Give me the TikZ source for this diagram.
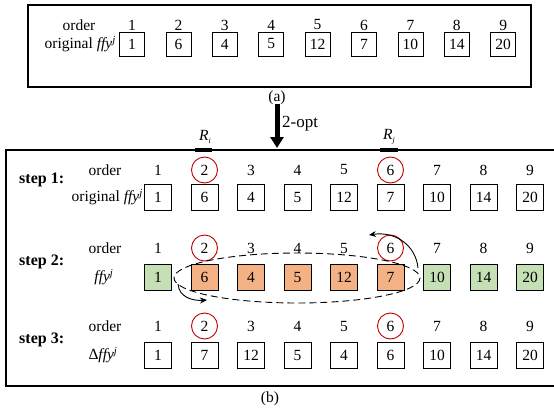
\documentclass[tikz,border=0pt]{standalone}
\usepackage{fontspec}
\setmainfont{Liberation Serif}
\usetikzlibrary{arrows.meta}
\definecolor{gfill}{HTML}{C5E0B4}
\definecolor{ofill}{HTML}{F4B183}
\definecolor{rc}{HTML}{C00000}
\begin{document}
\begin{tikzpicture}[x=1pt,y=-1pt,
  font=\fontsize{15.5}{18}\selectfont,
  cell/.style={draw=black, line width=0.8pt, minimum width=27pt, minimum height=26pt, inner sep=0pt},
  acell/.style={cell, minimum width=25pt, minimum height=24pt},
  num/.style={inner sep=0pt},
  rcirc/.style={draw=rc, circle, line width=0.9pt, minimum size=26pt, inner sep=0pt},
  steplbl/.style={anchor=west, inner sep=0pt, font=\fontsize{16}{19}\selectfont\bfseries},
  bigframe/.style={line width=1.6pt},
  curvearrow/.style={line width=0.9pt, -{Stealth[length=7pt,width=6pt]}}
]
\useasboundingbox (0,0) rectangle (554,412);

% ---------- (a) ----------
\draw[bigframe] (28,5) rectangle (531,87);
\node (aord) at (79,25) {order};
\node[anchor=east, inner sep=0pt] (aorig) at (116,44) {original \textit{ffy}\textsuperscript{\textit{j}}};
\foreach \v [count=\k] in {1,6,4,5,12,7,10,14,20} {
  \node[acell] (a\k) at ({132+46.4*(\k-1)},44) {\v};
  \node[num] (ao\k) at ({132+46.4*(\k-1)},25) {\k};
}
\node (alab) at (277,98) {(a)};

% ---------- 2-opt arrow ----------
\coordinate (optT) at (277,104);
\coordinate (optB) at (277,148);
\draw[line width=5pt, -{Triangle[width=13pt,length=11pt]}] (optT) -- (optB);
\node[anchor=west, inner sep=0pt, font=\fontsize{17}{20}\selectfont] (opt) at (282,124) {2-opt};

% ---------- (b) ----------
\draw[bigframe] (556,150) -- (6,150) -- (6,386) -- (556,386);
\draw[line width=3.5pt] (195,150) -- (212,150);
\draw[line width=3.5pt] (380,150) -- (398,150);
\node[inner sep=0pt] (Ri) at (205,137) {\textit{R}\raisebox{-2.5pt}{\fontsize{8}{9}\selectfont\textit{i}}};
\node[inner sep=0pt] (Rj) at (389,137) {\textit{R}\raisebox{-2.5pt}{\fontsize{8}{9}\selectfont\textit{j}}};

% step 1
\node[steplbl] (st1) at (19,180) {step 1:};
\node (o1) at (105,170) {order};
\node[anchor=east, inner sep=0pt] (orig1) at (143,197) {original \textit{ffy}\textsuperscript{\textit{j}}};
\foreach \st [count=\k] in {num,rcirc,num,num,num,rcirc,num,num,num} {
  \node[\st] (s1o\k) at ({158+46.5*(\k-1)},170) {\k};
}
\foreach \v [count=\k] in {1,6,4,5,12,7,10,14,20} {
  \node[cell] (s1c\k) at ({158+46.5*(\k-1)},197) {\v};
}

% step 2
\node[steplbl] (st2) at (19,262) {step 2:};
\node (o2) at (105,248) {order};
\node (ffy2) at (104,277) {\textit{ffy}\textsuperscript{\textit{j}}};
\foreach \st [count=\k] in {num,rcirc,num,num,num,rcirc,num,num,num} {
  \node[\st] (s2o\k) at ({158+46.5*(\k-1)},248) {\k};
}
\foreach \v/\f [count=\k] in {1/gfill,6/ofill,4/ofill,5/ofill,12/ofill,7/ofill,10/gfill,14/gfill,20/gfill} {
  \node[cell, fill=\f] (s2c\k) at ({158+46.5*(\k-1)},277) {\v};
}
\draw[line width=0.9pt, dash pattern=on 7pt off 4pt] (297,278) ellipse [x radius=123, y radius=25];
\coordinate (la1) at (178,284);
\coordinate (la2) at (207,300);
\draw[curvearrow] (la1) .. controls (179,297) and (192,301) .. (la2);
\coordinate (ra1) at (418,268);
\coordinate (ra2) at (369,235);
\draw[curvearrow] (ra1) .. controls (416,246) and (396,231) .. (ra2);

% step 3
\node[steplbl] (st3) at (19,340) {step 3:};
\node (o3) at (105,326) {order};
\node (ffy3) at (103,355) {Δ\textit{ffy}\textsuperscript{\textit{j}}};
\foreach \st [count=\k] in {num,rcirc,num,num,num,rcirc,num,num,num} {
  \node[\st] (s3o\k) at ({158+46.5*(\k-1)},326) {\k};
}
\foreach \v [count=\k] in {1,7,12,5,4,6,10,14,20} {
  \node[cell] (s3c\k) at ({158+46.5*(\k-1)},355) {\v};
}
\node (blab) at (270,399) {(b)};
\end{tikzpicture}
\end{document}
